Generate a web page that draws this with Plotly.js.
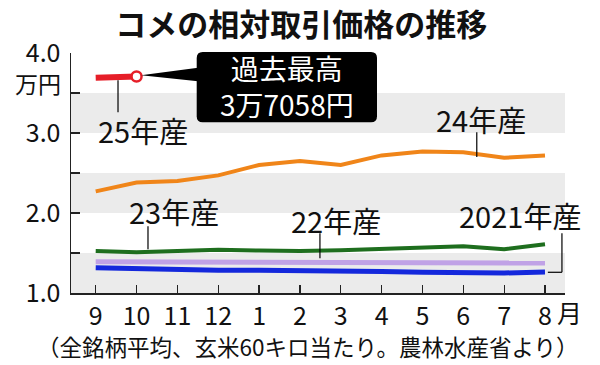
<!DOCTYPE html>
<html>
<head>
<meta charset="utf-8">
<script src="https://cdn.plot.ly/plotly-3.0.1.min.js"></script>
<style>html,body{margin:0;padding:0;background:#fff;}#chart{width:600px;height:365px;}</style>
</head>
<body>
<div id="chart"></div>
<script>
// ---- data ----
const months = ['9','10','11','12','1','2','3','4','5','6','7','8'];
const crop2025 = [3.6895, 3.7058];
const crop2024 = [2.27, 2.38, 2.40, 2.47, 2.60, 2.65, 2.60, 2.72, 2.77, 2.76, 2.69, 2.72];
const crop2023 = [1.525, 1.51, 1.525, 1.54, 1.53, 1.525, 1.535, 1.555, 1.567, 1.584, 1.546, 1.61];
const crop2022 = [1.39, 1.39, 1.39, 1.385, 1.385, 1.38, 1.38, 1.38, 1.38, 1.38, 1.375, 1.375];
const crop2021 = [1.317, 1.305, 1.29, 1.285, 1.285, 1.283, 1.28, 1.27, 1.26, 1.25, 1.25, 1.262];
const seriesNames = ['25年産', '24年産', '23年産', '22年産', '2021年産'];
const yTickVals = [1, 1.5, 2, 2.5, 3, 3.5, 4];
const yTickText = ['1.0', '', '2.0', '', '3.0', '', '4.0'];
const recordLabel = ['過去最高', '3万7058円'];

const idx = months.map((m, i) => i);
const FONT = '"Noto Sans CJK JP", "Noto Sans", sans-serif';

const traces = [
  {x: idx, y: crop2021, mode: 'lines', line: {color: '#1428dc', width: 5}, name: seriesNames[4]},
  {x: idx, y: crop2022, mode: 'lines', line: {color: '#c0a2e6', width: 5}, name: seriesNames[3]},
  {x: idx, y: crop2023, mode: 'lines', line: {color: '#1e6e1e', width: 4}, name: seriesNames[2]},
  {x: idx, y: crop2024, mode: 'lines', line: {color: '#f08519', width: 4}, name: seriesNames[1]},
  {x: idx.slice(0, crop2025.length), y: crop2025, mode: 'lines', line: {color: '#e61e28', width: 6}, name: seriesNames[0]},
  {x: [crop2025.length - 1], y: [crop2025[crop2025.length - 1]], mode: 'markers',
   marker: {symbol: 'circle', size: 10, color: '#ffffff', line: {color: '#e61e28', width: 2.5}}, name: 'max'}
];

// pixel -> paper helpers (plot area: x 71..565, y 52.7..292.7)
const PX0 = 71, PW = 494, PYB = 292.7, PH = 240;
const px = v => (v - PX0) / PW;
const py = v => (PYB - v) / PH;

const bands = [[1, 1.5], [2, 2.5], [3, 3.5]].map(b => ({
  type: 'rect', xref: 'paper', yref: 'y', x0: 0, x1: 1, y0: b[0], y1: b[1],
  fillcolor: '#ebebeb', line: {width: 0}, layer: 'below'
}));

function lineShape(x0, y0, x1, y1) {
  return {type: 'line', xref: 'x', yref: 'y', x0, y0, x1, y1, line: {color: '#000', width: 1.2}, layer: 'above'};
}

// rounded callout box in paper coords
const bx0 = px(196.7), bx1 = px(377), byT = py(51.7), byB = py(122);
const rx = 6 / PW, ry = 6 / PH;
const boxPath = `M ${bx0 + rx} ${byT} L ${bx1 - rx} ${byT} Q ${bx1} ${byT} ${bx1} ${byT - ry} ` +
  `L ${bx1} ${byB + ry} Q ${bx1} ${byB} ${bx1 - rx} ${byB} L ${bx0 + rx} ${byB} Q ${bx0} ${byB} ${bx0} ${byB + ry} ` +
  `L ${bx0} ${byT - ry} Q ${bx0} ${byT} ${bx0 + rx} ${byT} Z`;
const wedgePath = `M ${px(141)} ${py(75)} L ${px(198)} ${py(67.5)} L ${px(198)} ${py(81)} Z`;

const shapes = bands.concat([
  {type: 'path', xref: 'paper', yref: 'paper', path: wedgePath, fillcolor: '#000', line: {width: 0}, layer: 'above'},
  {type: 'path', xref: 'paper', yref: 'paper', path: boxPath, fillcolor: '#000', line: {width: 0}, layer: 'above'},
  lineShape(0.546, 3.66, 0.546, 3.26),
  lineShape(9.33, 3.01, 9.33, 2.70),
  lineShape(1.28, 1.834, 1.28, 1.546),
  lineShape(5.49, 1.746, 5.49, 1.434),
  lineShape(11.415, 1.746, 11.415, 1.259),
  lineShape(11.415, 1.259, 11.07, 1.259)
]);

function dataLabel(text, x, y) {
  return {text, x, y, xref: 'x', yref: 'y', showarrow: false, xanchor: 'center', yanchor: 'middle',
          font: {family: FONT, size: 29, color: '#111'}};
}

const annotations = [
  dataLabel(seriesNames[0], 1.155, 3.04),
  dataLabel(seriesNames[1], 9.43, 3.18),
  dataLabel(seriesNames[2], 1.916, 2.02),
  dataLabel(seriesNames[3], 5.895, 1.915),
  dataLabel(seriesNames[4], 10.40, 1.97),
  {text: recordLabel.join('<br>'), xref: 'paper', yref: 'paper', x: px(287), y: py(86), showarrow: false,
   xanchor: 'center', yanchor: 'middle', align: 'center', font: {family: FONT, size: 28, color: '#fff'}},
  {text: '万円', xref: 'paper', yref: 'paper', x: px(63), y: py(83), showarrow: false,
   xanchor: 'right', yanchor: 'middle', font: {family: FONT, size: 23, color: '#111'}},
  {text: '月', xref: 'paper', yref: 'paper', x: px(555), y: py(312), showarrow: false,
   xanchor: 'left', yanchor: 'middle', font: {family: FONT, size: 25, color: '#111'}},
  {text: '（全銘柄平均、玄米60キロ当たり。農林水産省より）', xref: 'paper', yref: 'paper', x: px(308), y: py(346),
   showarrow: false, xanchor: 'center', yanchor: 'middle', font: {family: FONT, size: 22.5, color: '#111'}}
];

const layout = {
  width: 600, height: 365,
  margin: {l: 71, r: 35, t: 52.7, b: 72.3},
  paper_bgcolor: '#fff', plot_bgcolor: '#fff',
  showlegend: false,
  title: {text: 'コメの相対取引価格の推移', x: 0.502, xanchor: 'center', y: 0.93, yanchor: 'middle',
          font: {family: FONT, size: 31, color: '#111', weight: 'bold'}},
  xaxis: {range: [-0.605, 11.49], tickvals: idx, ticktext: months, ticks: 'inside', ticklen: 8,
          tickcolor: '#222', tickwidth: 1.2, showline: true, linecolor: '#222', linewidth: 1.5,
          showgrid: false, zeroline: false, fixedrange: true,
          tickfont: {family: FONT, size: 25, color: '#111'}},
  yaxis: {range: [1, 4], tickvals: yTickVals, ticktext: yTickText, ticks: 'inside', ticklen: 9,
          tickcolor: '#222', tickwidth: 1.2, showline: true, linecolor: '#222', linewidth: 1.5,
          showgrid: false, zeroline: false, fixedrange: true, ticklabelstandoff: 4,
          tickfont: {family: FONT, size: 25, color: '#111'}},
  shapes, annotations
};

Plotly.newPlot('chart', traces, layout, {staticPlot: true, displayModeBar: false});
</script>
</body>
</html>
